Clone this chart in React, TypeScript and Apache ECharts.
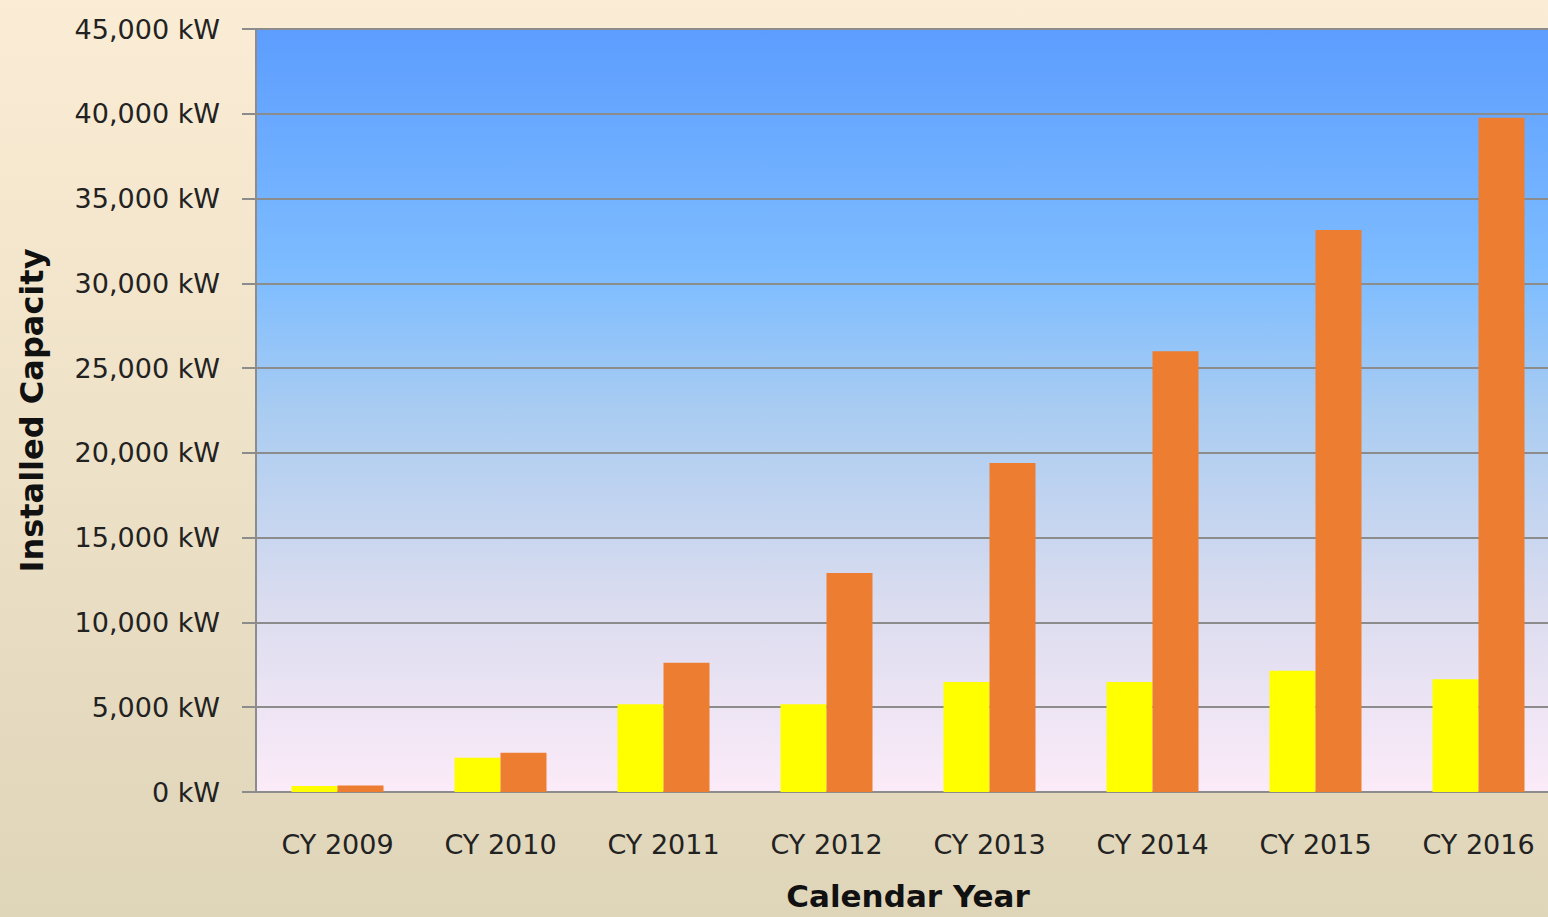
import React, { useEffect, useRef } from "react";
import * as echarts from "echarts";

const categories = ["CY 2009", "CY 2010", "CY 2011", "CY 2012", "CY 2013", "CY 2014", "CY 2015", "CY 2016"];
const yellowSeries = [350, 2020, 5170, 5170, 6490, 6490, 7150, 6650];
const orangeSeries = [380, 2320, 7630, 12920, 19400, 26000, 33150, 39770];
const yTicks = { min: 0, max: 45000, interval: 5000 };

export default function App() {
  const ref = useRef<HTMLDivElement>(null);
  useEffect(() => {
    if (!ref.current) return;
    const chart = echarts.init(ref.current, null, { renderer: "svg" });
    const font = "DejaVu Sans";
    chart.setOption({
      animation: false,
      backgroundColor: new echarts.graphic.LinearGradient(0, 0, 0, 1, [
        { offset: 0, color: "#FBEDD5" },
        { offset: 1, color: "#DFD5B9" },
      ]),
      grid: {
        left: 256,
        top: 29,
        width: 1304,
        height: 763,
        outerBoundsMode: "none",
        containLabel: false,
        show: true,
        borderWidth: 0,
        backgroundColor: new echarts.graphic.LinearGradient(0, 0, 0, 1, [
          { offset: 0, color: "#5C9DFF" },
          { offset: 0.33, color: "#7FBDFF" },
          { offset: 0.5, color: "#A9CCF1" },
          { offset: 0.75, color: "#DADCEF" },
          { offset: 1, color: "#FCEBF8" },
        ]),
      },
      xAxis: {
        type: "category",
        data: categories,
        name: "Calendar Year",
        nameLocation: "middle",
        nameGap: 88,
        nameTextStyle: { fontFamily: font, fontWeight: "bold", fontSize: 31, color: "#111" },
        axisLine: { lineStyle: { color: "#8c8c8c", width: 2 } },
        axisTick: { show: false },
        axisLabel: { fontFamily: font, fontSize: 27, color: "#222", margin: 39 },
      },
      yAxis: {
        type: "value",
        min: yTicks.min,
        max: yTicks.max,
        interval: yTicks.interval,
        name: "Installed Capacity",
        nameLocation: "middle",
        nameGap: 208,
        nameTextStyle: { fontFamily: font, fontWeight: "bold", fontSize: 32, color: "#111" },
        axisLine: { show: true, lineStyle: { color: "#8c8c8c", width: 2 } },
        axisTick: { show: true, length: 14, lineStyle: { color: "#8c8c8c", width: 2 } },
        axisLabel: {
          fontFamily: font,
          fontSize: 27,
          color: "#222",
          margin: 36,
          formatter: (v: number) => v.toLocaleString("en-US") + " kW",
        },
        splitLine: { lineStyle: { color: "#8c8c8c", width: 2 } },
      },
      series: [
        {
          type: "bar",
          data: yellowSeries,
          barWidth: 46,
          barGap: "0%",
          itemStyle: { color: "#FFFF00" },
        },
        {
          type: "bar",
          data: orangeSeries,
          barWidth: 46,
          barGap: "0%",
          itemStyle: { color: "#ED7D31" },
        },
      ],
    });
    return () => chart.dispose();
  }, []);
  return <div ref={ref} style={{ position: "fixed", left: 0, top: 0, width: 1548, height: 917 }} />;
}
